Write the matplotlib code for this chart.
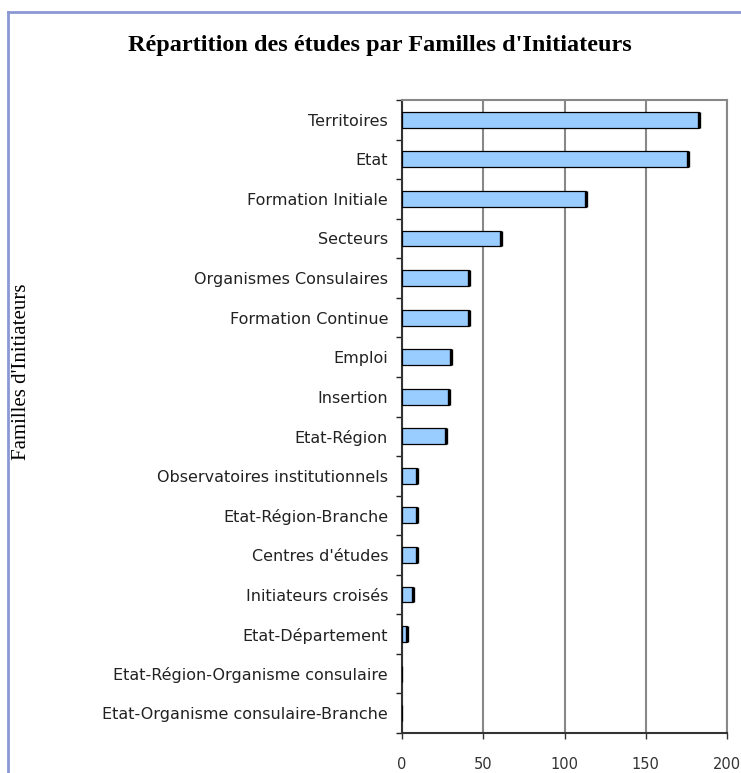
import matplotlib
matplotlib.use("Agg")
import matplotlib.pyplot as plt
from matplotlib.lines import Line2D
import numpy as np

categories = [
    "Territoires", "Etat", "Formation Initiale", "Secteurs",
    "Organismes Consulaires", "Formation Continue", "Emploi", "Insertion",
    "Etat-Région", "Observatoires institutionnels", "Etat-Région-Branche",
    "Centres d'études", "Initiateurs croisés", "Etat-Département",
    "Etat-Région-Organisme consulaire", "Etat-Organisme consulaire-Branche",
]
values = [183, 176, 113, 61, 41, 41, 30, 29, 27, 9, 9, 9, 7, 3, 0, 0]
xticks = [0, 50, 100, 150, 200]
title = "Répartition des études par Familles d'Initiateurs"
ylabel = "Familles d'Initiateurs"

W, H = 741, 773
fig = plt.figure(figsize=(W / 100, H / 100), dpi=100)
ax = fig.add_axes([402 / W, 1 - 733 / H, (727 - 402) / W, (733 - 100) / H])

n = len(categories)
ypos = np.arange(n)
ax.barh(ypos, values, height=0.40, color="#99ccff", edgecolor="black", linewidth=0.9, zorder=3)
for y, v in zip(ypos, values):
    if v > 0:
        ax.vlines(v, y - 0.2, y + 0.2, color="black", linewidth=2.4, zorder=4)

ax.set_xlim(0, 200)
ax.set_ylim(n - 0.5, -0.5)
ax.set_xticks(xticks)
ax.set_xticklabels([str(t) for t in xticks], fontsize=10.5, color="#333333", family="DejaVu Sans")
ax.tick_params(axis="x", direction="out", length=4, width=1, pad=13, colors="#333333")
ax.xaxis.grid(True, color="#888888", linewidth=1.5, zorder=0)

ax.set_yticks(np.arange(-0.5, n, 1.0))
ax.set_yticklabels([])
ax.set_yticks(ypos, minor=True)
ax.set_yticklabels(categories, minor=True, fontsize=11.5, color="#222222", family="DejaVu Sans")
ax.tick_params(axis="y", which="major", direction="out", length=4, width=1, colors="#222222")
ax.tick_params(axis="y", which="minor", length=0, pad=10)

for s in ["top", "right"]:
    ax.spines[s].set_color("#888888")
    ax.spines[s].set_linewidth(1.5)
for s in ["left", "bottom"]:
    ax.spines[s].set_color("#333333")
    ax.spines[s].set_linewidth(1.5)

fig.text(380 / W, 1 - 45 / H, title, ha="center", va="center", fontsize=17.5,
         fontweight="bold", family="Liberation Serif")
fig.text(22 / W, 1 - 372 / H, ylabel, ha="center", va="center", rotation=90,
         fontsize=15, family="Liberation Serif")

fig.add_artist(Line2D([8 / W, 8 / W], [0, 1 - 12 / H], transform=fig.transFigure,
                      color="#8c98d4", linewidth=2))
fig.add_artist(Line2D([8 / W, 1], [1 - 12 / H, 1 - 12 / H], transform=fig.transFigure,
                      color="#8c98d4", linewidth=2))

fig.savefig("out.png", dpi=100)
